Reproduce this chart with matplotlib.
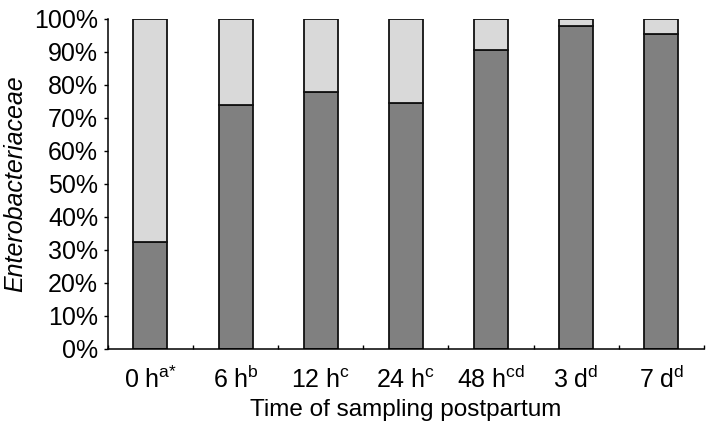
import numpy as np
import matplotlib.pyplot as plt
from matplotlib.ticker import FixedLocator, PercentFormatter

plt.rcParams['font.family'] = ['Liberation Sans', 'DejaVu Sans']
plt.rcParams['mathtext.default'] = 'regular'

# 数据
times = ['0 h$^{a{*}}$', '6 h$^{b}$', '12 h$^{c}$', '24 h$^{c}$',
         '48 h$^{cd}$', '3 d$^{d}$', '7 d$^{d}$']
entero = [32.5, 74.0, 77.8, 74.5, 90.5, 97.9, 95.3]
other = [100 - v for v in entero]

fig = plt.figure(figsize=(7.09, 4.28), dpi=100)
ax = fig.add_axes([0.152, 0.185, 0.841, 0.771])

x = np.arange(len(times))
ax.bar(x, entero, width=0.4, color='#808080', edgecolor='#111111', linewidth=1.3)
ax.bar(x, other, width=0.4, bottom=entero, color='#d9d9d9',
       edgecolor='#111111', linewidth=1.3)

ax.set_xlim(-0.5, len(times) - 0.5)
ax.set_ylim(0, 100)
ax.set_yticks(np.arange(0, 101, 10))
ax.yaxis.set_major_formatter(PercentFormatter(decimals=0))
ax.set_xticks(x)
ax.set_xticklabels(times)
ax.xaxis.set_minor_locator(FixedLocator(np.arange(-0.5, len(times), 1.0)))
ax.tick_params(axis='x', which='major', length=0, labelsize=18, pad=28)
ax.tick_params(axis='x', which='minor', direction='in', length=3, width=1)
ax.tick_params(axis='y', labelsize=18, length=3, width=1, pad=4)
# 统一基线对齐
for lab in ax.get_xticklabels():
    lab.set_verticalalignment('baseline')

for s in ['top', 'right']:
    ax.spines[s].set_visible(False)
for s in ['left', 'bottom']:
    ax.spines[s].set_linewidth(1.1)

ax.set_ylabel('Enterobacteriaceae', fontsize=18, style='italic', labelpad=5)
ax.set_xlabel('Time of sampling postpartum', fontsize=17.5)
ax.xaxis.set_label_coords(0.5, -0.152)
ax.xaxis.label.set_verticalalignment('top')

fig.savefig('out.png', dpi=100)
